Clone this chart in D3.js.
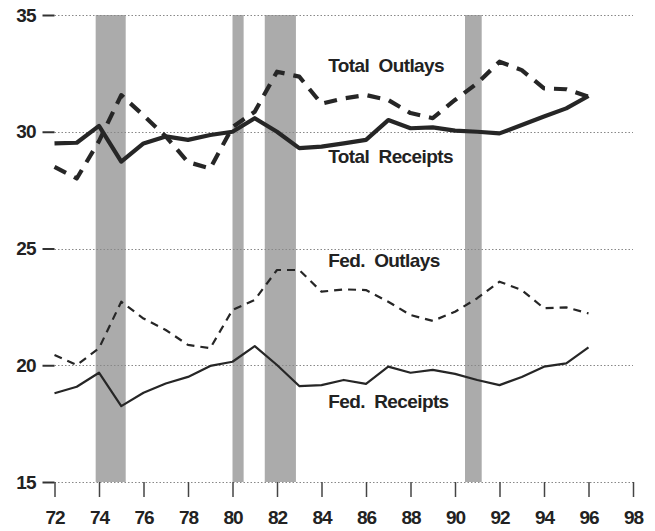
<!DOCTYPE html>
<html>
<head>
<meta charset="utf-8">
<script src="https://cdn.jsdelivr.net/npm/d3@7"></script>
<style>
  html, body { margin: 0; padding: 0; background: #fff; }
  svg text { font-family: "Liberation Sans", Arial, Helvetica, sans-serif; fill: #222; }
</style>
</head>
<body>
<svg id="chart" width="655" height="531"></svg>
<script>
// ---- data ----
const years = d3.range(72, 97);
const totalReceipts = [29.5, 29.53, 30.25, 28.72, 29.5, 29.8, 29.65, 29.86, 30.0, 30.58, 30.0, 29.3, 29.36,
                       29.5, 29.65, 30.5, 30.15, 30.19, 30.05, 30.0, 29.93, 30.29, 30.65, 31.0, 31.53];
const totalOutlays = [28.5, 28.0, 29.6, 31.57, 30.7, 29.8, 28.7, 28.43, 30.2, 30.86, 32.57, 32.36, 31.2,
                      31.43, 31.57, 31.36, 30.8, 30.58, 31.36, 32.08, 33.0, 32.64, 31.86, 31.82, 31.5];
const fedOutlays = [20.44, 20.01, 20.73, 22.72, 22.0, 21.51, 20.87, 20.73, 22.37, 22.8, 24.08, 24.08, 23.15,
                    23.25, 23.22, 22.72, 22.15, 21.9, 22.29, 22.87, 23.58, 23.22, 22.44, 22.48, 22.22];
const fedReceipts = [18.8, 19.08, 19.68, 18.25, 18.82, 19.22, 19.5, 19.97, 20.15, 20.82, 20.01, 19.11, 19.15,
                     19.37, 19.2, 19.94, 19.68, 19.8, 19.63, 19.37, 19.15, 19.5, 19.94, 20.08, 20.77];
const recessions = [[73.85, 75.2], [80.0, 80.5], [81.45, 82.85], [90.45, 91.2]];
const xTicks = d3.range(72, 99, 2);
const yTicks = [15, 20, 25, 30, 35];
const seriesLabels = [
  { text: "Total  Outlays", x: 84.3, y: 32.57 },
  { text: "Total  Receipts", x: 84.3, y: 28.65 },
  { text: "Fed.  Outlays", x: 84.3, y: 24.2 },
  { text: "Fed.  Receipts", x: 84.3, y: 18.17 }
];

// ---- layout ----
const svg = d3.select("#chart");
const x = d3.scaleLinear().domain([72, 98]).range([54.5, 633]);
const y = d3.scaleLinear().domain([15, 35]).range([482, 15]);

// recession bars
svg.append("g").selectAll("rect").data(recessions).join("rect")
  .attr("x", d => x(d[0]))
  .attr("width", d => x(d[1]) - x(d[0]))
  .attr("y", y(35))
  .attr("height", y(15) - y(35))
  .attr("fill", "#ababab");

// gridlines
svg.append("g").selectAll("line").data(yTicks).join("line")
  .attr("x1", x(72)).attr("x2", x(98))
  .attr("y1", d => Math.round(y(d)) + 0.5).attr("y2", d => Math.round(y(d)) + 0.5)
  .attr("stroke", "#888").attr("stroke-width", 1).attr("stroke-dasharray", "1.5,2");

// y axis
const yAxis = svg.append("g").attr("transform", `translate(${x(72)},0)`)
  .call(d3.axisLeft(y).tickValues(yTicks).tickSize(12).tickPadding(7).tickFormat(d3.format("d")));
yAxis.select(".domain").remove();
yAxis.selectAll(".tick line").attr("stroke", "#333").attr("stroke-width", 2);
yAxis.selectAll(".tick text").attr("font-size", 19).attr("font-weight", "bold")
  .attr("letter-spacing", "-1px").attr("fill", "#222")
  .style("font-family", "'Liberation Sans', Arial, sans-serif");

// x axis
const xAxis = svg.append("g").attr("transform", `translate(0,${y(15)})`)
  .call(d3.axisBottom(x).tickValues(xTicks).tickSize(15).tickPadding(14).tickFormat(d3.format("d")));
xAxis.select(".domain").remove();
xAxis.selectAll(".tick line").attr("stroke", "#444").attr("stroke-width", 1.5);
xAxis.selectAll(".tick text").attr("font-size", 19).attr("font-weight", "bold")
  .attr("letter-spacing", "-1px").attr("fill", "#222")
  .style("font-family", "'Liberation Sans', Arial, sans-serif");

// lines
const line = d3.line().x((d, i) => x(years[i])).y(d => y(d));
const series = [
  { data: totalOutlays, w: 4.2, dash: "13,9" },
  { data: totalReceipts, w: 4.2, dash: null },
  { data: fedOutlays, w: 2.2, dash: "8,6" },
  { data: fedReceipts, w: 2.2, dash: null }
];
svg.append("g").selectAll("path").data(series).join("path")
  .attr("d", d => line(d.data))
  .attr("fill", "none")
  .attr("stroke", "#262626")
  .attr("stroke-width", d => d.w)
  .attr("stroke-linejoin", "round")
  .attr("stroke-dasharray", d => d.dash);

// series labels
svg.append("g").selectAll("text").data(seriesLabels).join("text")
  .attr("x", d => x(d.x))
  .attr("y", d => y(d.y))
  .attr("font-size", 19)
  .attr("font-weight", "bold")
  .attr("letter-spacing", "-0.6px")
  .attr("fill", "#222")
  .style("white-space", "pre")
  .text(d => d.text);
</script>
</body>
</html>
